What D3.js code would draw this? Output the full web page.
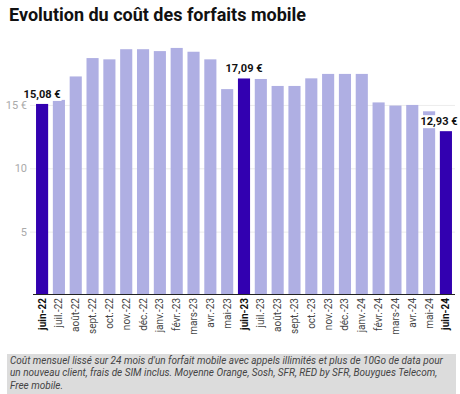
<!DOCTYPE html>
<html>
<head>
<meta charset="utf-8">
<script src="https://cdn.jsdelivr.net/npm/d3@7"></script>
<style>
  body { margin: 0; background: #fff; font-family: Roboto, "Liberation Sans", sans-serif; }
  #chart { position: relative; width: 460px; height: 394px; }
</style>
</head>
<body>
<div id="chart"></div>
<script>

// months shown on the x axis
months = ["juin-22", "juil.-22", "août-22", "sept.-22", "oct.-22", "nov.-22", "déc.-22",
          "janv.-23", "févr.-23", "mars-23", "avr.-23", "mai-23", "juin-23", "juil.-23",
          "août-23", "sept.-23", "oct.-23", "nov.-23", "déc.-23", "janv.-24", "févr.-24",
          "mars-24", "avr.-24", "mai-24", "juin-24"]

// average monthly cost in euros
costs = [15.08, 15.4, 17.25, 18.7, 18.6, 19.4, 19.4,
         19.25, 19.5, 19.2, 18.6, 16.25, 17.09, 17.05,
         16.5, 16.5, 17.1, 17.45, 17.45, 17.45, 15.2,
         14.95, 15.0, 14.5, 12.93]

// bars that are highlighted and labelled
highlighted = ["juin-22", "juin-23", "juin-24"]
value_labels = ["15,08 €", "17,09 €", "12,93 €"]

y_ticks = [5, 10, 15]
y_tick_labels = ["5", "10", "15 €"]

var data = months.map(function(m, i) { return {month: m, cost: costs[i]} })

var W = 460, H = 394
var svg = d3.select("#chart").append("svg").attr("width", W).attr("height", H)

svg.append("text")
  .attr("x", 9).attr("y", 21)
  .attr("font-size", "18px").attr("font-weight", "bold").attr("fill", "#111")
  .text("Evolution du coût des forfaits mobile")

var x = d3.scaleBand().domain(months).range([33, 455]).paddingInner(0.28).paddingOuter(0.18)
var y = d3.scaleLinear().domain([0, 20]).range([295, 41.6])

// grid lines
svg.selectAll(".grid").data(y_ticks).enter().append("line")
  .attr("x1", 30).attr("x2", 455)
  .attr("y1", function(d) { return y(d) + 0.5 })
  .attr("y2", function(d) { return y(d) + 0.5 })
  .attr("stroke", "#ececec").attr("stroke-width", 1)

svg.selectAll(".ytick").data(y_ticks).enter().append("text")
  .attr("x", 27)
  .attr("y", function(d) { return y(d) + 4 })
  .attr("text-anchor", "end")
  .attr("font-size", "11px").attr("fill", "#aaa")
  .text(function(d, i) { return y_tick_labels[i] })

svg.selectAll(".bar").data(data).enter().append("rect")
  .attr("x", function(d) { return x(d.month) })
  .attr("width", x.bandwidth())
  .attr("y", function(d) { return y(d.cost) })
  .attr("height", function(d) { return y(0) - y(d.cost) })
  .attr("fill", function(d) { return highlighted.indexOf(d.month) >= 0 ? "#3200b0" : "#afafe3" })

// axis line
svg.append("line")
  .attr("x1", 33).attr("x2", 455).attr("y1", 294.5).attr("y2", 294.5)
  .attr("stroke", "#222").attr("stroke-width", 1)

// month labels, rotated
svg.selectAll(".xlab").data(months).enter().append("text")
  .attr("transform", function(d) { return "translate(" + (x(d) + x.bandwidth() / 2 + 3.5) + ",298) rotate(-90)" })
  .attr("text-anchor", "end")
  .attr("font-size", "10px")
  .attr("font-weight", function(d) { return highlighted.indexOf(d) >= 0 ? "bold" : "normal" })
  .attr("fill", function(d) { return highlighted.indexOf(d) >= 0 ? "#111" : "#444" })
  .text(function(d) { return d })

// value labels on highlighted bars
highlighted.forEach(function(m, i) {
  var d = data[months.indexOf(m)]
  var cx = x(m) + x.bandwidth() / 2
  if (cx > 430) cx = 439
  var g = svg.append("g")
  var t = g.append("text")
    .attr("x", cx).attr("y", y(d.cost) - 6)
    .attr("text-anchor", "middle")
    .attr("font-size", "11px").attr("font-weight", "bold").attr("fill", "#111")
    .text(value_labels[i])
  var bb = t.node().getBBox()
  g.insert("rect", "text")
    .attr("x", bb.x - 1).attr("y", bb.y).attr("width", bb.width + 2).attr("height", bb.height)
    .attr("fill", "#fff")
})

// source note
var note = d3.select("#chart").append("div")
  .style("position", "absolute").style("left", "7px").style("top", "354px")
  .style("width", "444px").style("padding", "1px 2px 2px 3px")
  .style("background", "#dcdcdc")
  .style("font-size", "10px").style("line-height", "12.3px")
  .style("font-style", "italic").style("color", "#444")
  .text("Coût mensuel lissé sur 24 mois d'un forfait mobile avec appels illimités et plus de 10Go de data pour un nouveau client, frais de SIM inclus. Moyenne Orange, Sosh, SFR, RED by SFR, Bouygues Telecom, Free mobile.")

</script>
</body>
</html>
